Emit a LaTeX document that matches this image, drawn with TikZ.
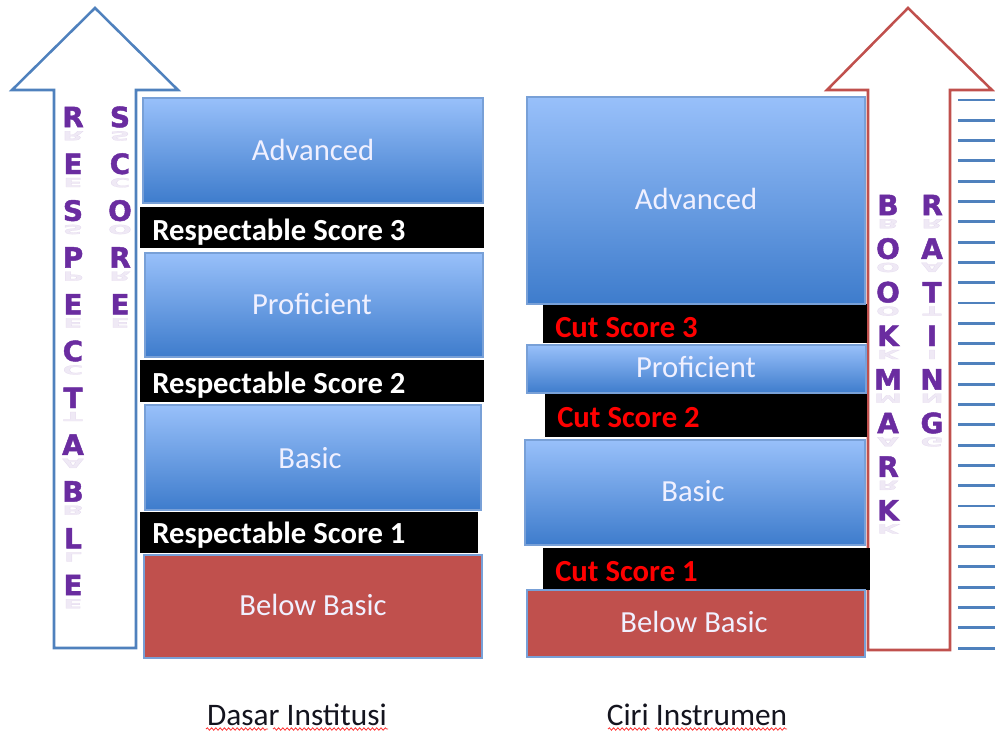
\documentclass[tikz,border=0pt]{standalone}
\usepackage{fontspec}
\setmainfont{Carlito}
\newfontfamily\wafont{DejaVu Sans}[UprightFont={* Bold}, FakeBold=1.6]
\usetikzlibrary{decorations.pathmorphing}
\definecolor{arrblue}{RGB}{79,129,189}
\definecolor{arrred}{RGB}{192,80,77}
\definecolor{btop}{RGB}{152,192,250}
\definecolor{bbot}{RGB}{62,124,204}
\definecolor{bedge}{RGB}{120,160,215}
\definecolor{redbox}{RGB}{192,80,77}
\definecolor{wapurple}{RGB}{106,44,160}
\definecolor{capt}{RGB}{20,20,30}
\begin{document}
\begin{tikzpicture}[x=0.75pt,y=-0.75pt,
  bluebox/.style={draw=bedge, line width=0.8pt, top color=btop, bottom color=bbot},
  redbx/.style={draw=bedge, line width=0.8pt, fill=redbox},
  blackbar/.style={fill=black},
  boxtext/.style={text=white!94!blue, font=\fontsize{23}{23}\selectfont, inner sep=0pt},
  bartext/.style={text=white, font=\bfseries\fontsize{23}{23}\selectfont, anchor=west, inner sep=0pt},
  cuttext/.style={text=red, font=\bfseries\fontsize{23}{23}\selectfont, anchor=west, inner sep=0pt},
  wal/.style={text=wapurple, font=\wafont\fontsize{21}{21}\selectfont, inner sep=0pt},
  walref/.style={wal, anchor=south, yscale=-0.45, transform shape, opacity=0.1},
  arrowline/.style={line width=1.9pt, line join=miter, fill=white},
  hline/.style={arrblue, line width=2.2pt},
  caption/.style={text=capt, font=\fontsize{23.5}{23.5}\selectfont, inner sep=0pt},
  squig/.style={red!80!white, line width=0.6pt, decorate, decoration={snake, amplitude=0.9pt, segment length=3.2pt}}
]
\useasboundingbox (0,0) rectangle (995,735);

% ---- left (blue) arrow ----
\draw[arrowline, draw=arrblue] (54,648) -- (54,90) -- (12,90) -- (95,8) -- (178,90) -- (136,90) -- (136,648) -- cycle;
\foreach \l [count=\i from 0] in {R,E,S,P,E,C,T,A,B,L,E} {
  \node[wal] (rl\i) at (73,117+46.8*\i) {\l};
  \begin{scope}[shift={(73,131+46.8*\i)}]
    \node[walref] (rlr\i) at (0,0) {\l};
  \end{scope}
}
\foreach \l [count=\i from 0] in {S,C,O,R,E} {
  \node[wal] (sl\i) at (120,117+46.8*\i) {\l};
  \begin{scope}[shift={(120,131+46.8*\i)}]
    \node[walref] (slr\i) at (0,0) {\l};
  \end{scope}
}

% ---- right (red) arrow ----
\draw[arrowline, draw=arrred] (868,650) -- (868,90) -- (827,90) -- (908,8) -- (992,90) -- (950,90) -- (950,650) -- cycle;
\foreach \l [count=\i from 0] in {B,O,O,K,M,A,R,K} {
  \node[wal] (bl\i) at (888,205+43.6*\i) {\l};
  \begin{scope}[shift={(888,219+43.6*\i)}]
    \node[walref] (blr\i) at (0,0) {\l};
  \end{scope}
}
\foreach \l [count=\i from 0] in {R,A,T,I,N,G} {
  \node[wal] (tl\i) at (932,205+43.6*\i) {\l};
  \begin{scope}[shift={(932,219+43.6*\i)}]
    \node[walref] (tlr\i) at (0,0) {\l};
  \end{scope}
}
\foreach \i in {0,...,27} {
  \draw[hline] (958,100+20.3*\i) -- (995,100+20.3*\i);
}

% ---- left column: Dasar Institusi ----
\fill[blackbar] (140,207) rectangle (484,248);
\fill[blackbar] (140,360) rectangle (484,402);
\fill[blackbar] (140,512) rectangle (478,553);
\path[bluebox] (143,98) rectangle (483,203);
\path[bluebox] (145,253) rectangle (483,357);
\path[bluebox] (145,405) rectangle (481,510);
\path[redbx] (144,555) rectangle (482,658);
\node[boxtext] (ladv) at (313,150) {Advanced};
\node[boxtext] (lpro) at (312,304) {Proficient};
\node[boxtext] (lbas) at (310,458) {Basic};
\node[boxtext] (lbb) at (313,605) {Below Basic};
\node[bartext] (rs3) at (152,232) {Respectable Score 3};
\node[bartext] (rs2) at (152,385) {Respectable Score 2};
\node[bartext] (rs1) at (152,535) {Respectable Score 1};

% ---- right column: Ciri Instrumen ----
\fill[blackbar] (543,304) rectangle (867,343);
\fill[blackbar] (545,393) rectangle (867,437);
\fill[blackbar] (543,548) rectangle (870,590);
\path[bluebox] (527,97) rectangle (865,304);
\path[bluebox] (527,345) rectangle (866,393);
\path[bluebox] (525,440) rectangle (865,545);
\path[redbx] (527,590) rectangle (865,657);
\node[boxtext] (radv) at (696,199) {Advanced};
\node[boxtext] (rpro) at (696,367) {Proficient};
\node[boxtext] (rbas) at (693,491) {Basic};
\node[boxtext] (rbb) at (694,622) {Below Basic};
\node[cuttext] (cs3) at (555,328) {Cut Score 3};
\node[cuttext] (cs2) at (557,418) {Cut Score 2};
\node[cuttext] (cs1) at (555,572) {Cut Score 1};

% ---- captions ----
\node[caption] (capl) at (297,715) {Dasar Institusi};
\node[caption] (capr) at (697,715) {Ciri Instrumen};
\draw[squig] (206,729) -- (268,729);
\draw[squig] (273,729) -- (388,729);
\draw[squig] (608,729) -- (650,729);
\draw[squig] (655,729) -- (787,729);
\end{tikzpicture}
\end{document}
